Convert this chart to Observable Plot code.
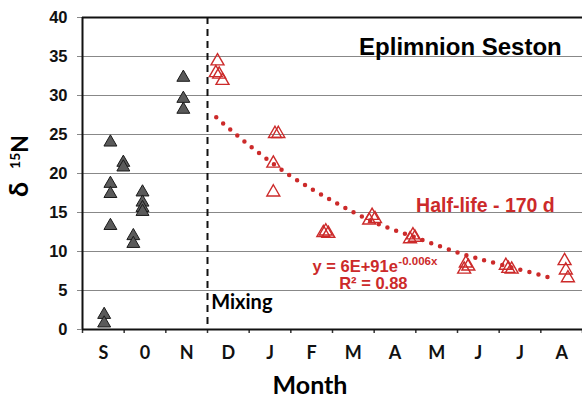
<!DOCTYPE html>
<html>
<head>
<meta charset="utf-8">
<script src="https://cdn.jsdelivr.net/npm/d3@7"></script>
<script src="https://cdn.jsdelivr.net/npm/@observablehq/plot@0.6"></script>
<style>
  body { margin: 0; background: #fff; }
  #chart svg { display: block; }
</style>
</head>
<body>
<div id="chart"></div>
<script>
// Month labels (as in the reference, "0" for October)
const monthLabels = ["S", "0", "N", "D", "J", "F", "M", "A", "M", "J", "J", "A"];

// Pre-mixing seston (grey filled triangles): month position, δ15N
const preMonth = [0.52, 0.52, 0.67, 0.67, 0.67, 0.67, 0.98, 0.98, 1.22, 1.22, 1.44, 1.44, 1.44, 1.44, 2.42, 2.42, 2.42];
const preValue = [1.9, 0.8, 24.0, 18.7, 17.4, 13.3, 21.4, 20.8, 12.0, 11.0, 17.6, 16.3, 15.6, 15.1, 32.3, 29.6, 28.2];

// Post-mixing seston (red open triangles)
const postMonth = [3.24, 3.2, 3.28, 3.36, 4.62, 4.7, 4.58, 4.58,
  5.78, 5.84, 5.9, 6.88, 6.95, 7.02, 7.86, 7.93, 7.98,
  9.16, 9.2, 9.26, 10.16, 10.22, 10.3, 11.57, 11.6, 11.65];
const postValue = [34.4, 32.9, 32.7, 31.9, 25.1, 25.1, 21.3, 17.6,
  12.4, 12.6, 12.3, 14.0, 14.6, 14.2, 11.6, 12.1, 11.8,
  7.7, 8.5, 8.1, 8.2, 7.8, 7.7, 8.8, 7.6, 6.6];

// Exponential fit curve
const fitMonth = [3.21, 3.98, 4.99, 6.0, 6.98, 7.99, 8.99, 9.98, 10.98, 11.3];
const fitValue = [27.2, 23.7, 19.7, 16.5, 13.8, 11.8, 9.9, 8.4, 7.0, 6.5];

const yTicks = [0, 5, 10, 15, 20, 25, 30, 35, 40];
const mixingMonth = 3;

const red = "#cc2a2a";
const pre = preMonth.map((m, i) => ({month: m, value: preValue[i]}));
const post = postMonth.map((m, i) => ({month: m, value: postValue[i]}));
const fit = fitMonth.map((m, i) => ({month: m, value: fitValue[i]}));
const monthTicks = monthLabels.map((label, i) => ({mid: i + 0.5, label}));

const chart = Plot.plot({
  width: 582,
  height: 400,
  marginLeft: 82,
  marginRight: 0,
  marginTop: 17,
  marginBottom: 71,
  style: {fontFamily: "'Liberation Sans', Arial, sans-serif", background: "#fff"},
  x: {domain: [0, 12], axis: null},
  y: {domain: [0, 40], axis: null},
  marks: [
    Plot.axisY({ticks: yTicks, tickSize: 5, tickFormat: () => "", stroke: "#888", label: null}),
    Plot.tickY(yTicks, {y: d => d, x1: 0, x2: 0.1, stroke: "#888"}),
    Plot.text(yTicks, {x: 0, y: d => d, text: d => String(d), dx: -15, textAnchor: "end",
      fontSize: 16.5, fontWeight: "bold", fill: "#111"}),
    Plot.axisX({ticks: d3.range(0, 13), tickFormat: () => "", tickSize: 4, stroke: "#333", strokeWidth: 1.5, label: null}),
    Plot.text(monthTicks, {x: "mid", y: 0, text: "label", dy: 24,
      fontSize: 18, fontWeight: "bold", fontFamily: "Lato, sans-serif", fill: "#111"}),
    Plot.ruleY([0], {stroke: "#111", strokeWidth: 2}),
    Plot.ruleX([0], {stroke: "#111", strokeWidth: 2}),
    Plot.ruleY([40], {stroke: "#111", strokeWidth: 2}),
    Plot.ruleX([mixingMonth], {stroke: "#111", strokeWidth: 2, strokeDasharray: "7,5"}),
    Plot.line(fit, {x: "month", y: "value", curve: "natural", stroke: red, strokeWidth: 4.5,
      strokeDasharray: "0,9.3", strokeLinecap: "round"}),
    Plot.dot(pre, {x: "month", y: "value", symbol: "triangle", r: 4.8, fill: "#5a5a5a", stroke: "#1a1a1a", strokeWidth: 1}),
    Plot.dot(post, {x: "month", y: "value", symbol: "triangle", r: 4.8, fill: "none", stroke: red, strokeWidth: 1.4}),
    Plot.text(["Eplimnion Seston"], {x: 9.07, y: 36.2, fontSize: 24, fontWeight: "bold", fill: "#000"}),
    Plot.text(["Half-life - 170 d"], {x: 9.67, y: 15.9, fontSize: 19.5, fontWeight: "bold", fill: red}),
    Plot.text(["y = 6E+91e"], {x: 5.52, y: 8.0, textAnchor: "start", fontSize: 16.5, fontWeight: "bold", fill: red}),
    Plot.text(["-0.006x"], {x: 7.58, y: 8.7, textAnchor: "start", fontSize: 11.5, fontWeight: "bold", fill: red}),
    Plot.text(["R² = 0.88"], {x: 6.16, y: 5.9, textAnchor: "start", fontSize: 16.5, fontWeight: "bold", fill: red}),
    Plot.text(["Mixing"], {x: 3.09, y: 3.5, textAnchor: "start", fontSize: 20, fontWeight: "bold", fontFamily: "Lato, sans-serif", fill: "#000"})
  ]
});

const svg = d3.select(chart);

// Y axis title δ 15N
const yl = svg.append("text")
  .attr("transform", "translate(28,166) rotate(-90)")
  .attr("text-anchor", "middle")
  .attr("font-family", "Lato, sans-serif")
  .attr("font-weight", "bold")
  .attr("font-size", 23)
  .attr("fill", "#000");
yl.append("tspan").attr("font-size", 27).text("δ");
yl.append("tspan").attr("font-size", 14).attr("dy", -8).attr("dx", 13).text("15");
yl.append("tspan").attr("dy", 8).text("N");
// X axis title
svg.append("text")
  .attr("x", 310).attr("y", 394)
  .attr("text-anchor", "middle")
  .attr("font-family", "Lato, sans-serif")
  .attr("font-weight", "bold")
  .attr("font-size", 25)
  .attr("fill", "#000")
  .text("Month");

document.getElementById("chart").appendChild(chart);
</script>
</body>
</html>
